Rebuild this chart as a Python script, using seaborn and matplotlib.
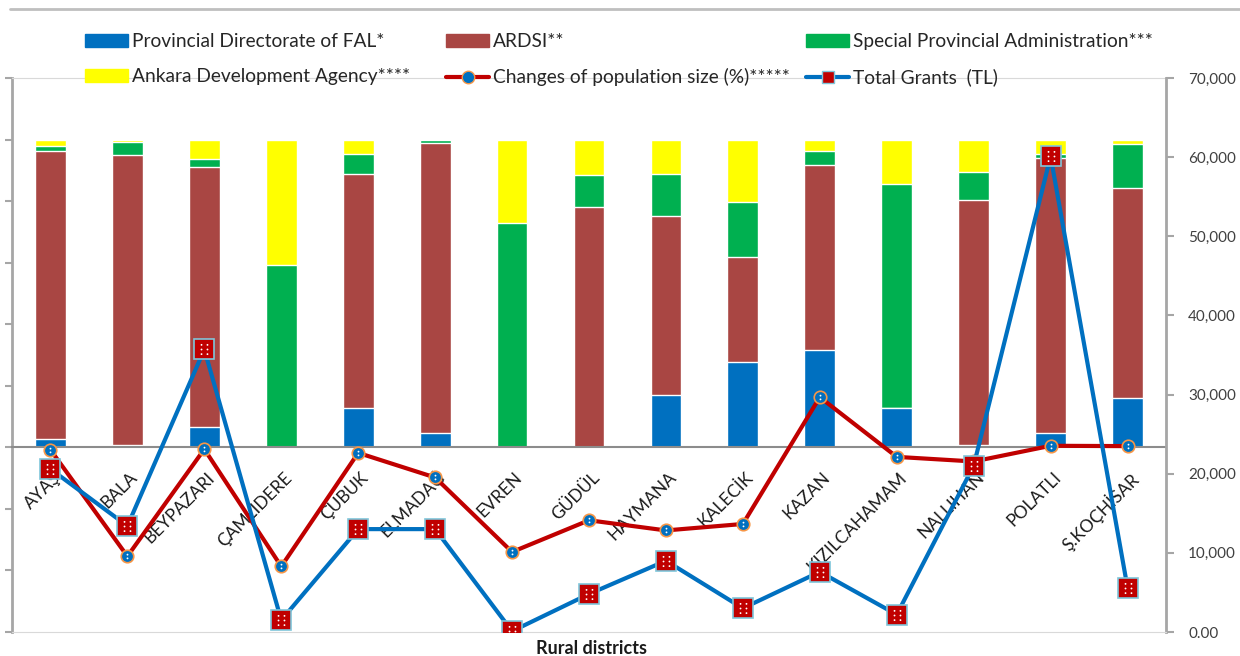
import numpy as np
import seaborn as sns
import matplotlib.pyplot as plt
import matplotlib.transforms as mtransforms
from matplotlib.patches import Patch
from matplotlib.lines import Line2D
from matplotlib.path import Path
from matplotlib.ticker import FuncFormatter, MultipleLocator

# Data (shares in %, grants in TL)
districts = ["AYAŞ", "BALA", "BEYPAZARI", "ÇAMLIDERE", "ÇUBUK", "ELMADAĞ", "EVREN",
             "GÜDÜL", "HAYMANA", "KALECİK", "KAZAN", "KIZILCAHAMAM", "NALLIHAN",
             "POLATLI", "Ş.KOÇHİSAR"]
fal = [2.7, 0.8, 6.7, 0.0, 12.8, 4.7, 0.0, 0.0, 17.1, 27.7, 31.6, 12.8, 0.6, 4.7, 16.0]
ardsi = [93.7, 94.1, 84.5, 0.0, 76.1, 94.1, 0.0, 78.0, 58.2, 34.0, 60.2, 0.0, 79.6, 89.2, 68.3]
spa = [1.4, 4.3, 2.6, 59.4, 6.5, 1.2, 72.9, 10.4, 13.5, 18.0, 4.6, 72.6, 9.2, 1.3, 14.1]
ada = [2.2, 0.8, 6.2, 40.6, 4.6, 0.0, 27.1, 11.6, 11.2, 20.3, 3.6, 14.6, 10.6, 4.8, 1.6]
pop_change = [-0.8, -35.4, -0.6, -38.7, -1.8, -9.8, -34.0, -23.7, -27.0, -24.9,
              16.3, -3.1, -4.6, 0.5, 0.4]
grants = [20600, 13400, 35700, 1500, 13000, 13000, 100, 4800, 9000, 3000,
          7600, 2200, 21000, 60100, 5600]

labels = ["Provincial Directorate of FAL*", "ARDSI**", "Special Provincial Administration***",
          "Ankara Development Agency****", "Changes of population size (%)*****",
          "Total Grants  (TL)"]

c_blue = "#0070C0"
c_brown = "#A94643"
c_green = "#00B050"
c_yellow = "#FFFF00"
c_red = "#C00000"

sns.set_style("white")
plt.rcParams["font.family"] = ["Lato", "DejaVu Sans"]

fig = plt.figure(figsize=(12.4, 6.56), dpi=100)
ax = fig.add_axes([12 / 1240, 1 - 632 / 656, (1166 - 12) / 1240, (632 - 78) / 656])

pos = np.arange(len(districts))
layers = [fal, ardsi, spa, ada]
cols = [c_blue, c_brown, c_green, c_yellow]
cum = np.cumsum(np.array(layers), axis=0)

# stacked bars: draw the cumulative totals from the top layer down
for k in range(3, -1, -1):
    sns.barplot(x=districts, y=cum[k], color=cols[k], width=0.4, saturation=1,
                errorbar=None, ax=ax, zorder=1)

# population change line (left axis)
sns.lineplot(x=pos, y=pop_change, ax=ax, color=c_red, lw=3, marker="o",
             markersize=9, markerfacecolor=c_blue, markeredgecolor="#F79646",
             markeredgewidth=1.2, zorder=3)

ax.set_xlim(-0.5, len(districts) - 0.5)
ax.set_ylim(-60, 120)
ax.yaxis.set_major_locator(MultipleLocator(20))
ax.tick_params(axis="y", left=True, labelleft=False, length=5, width=1.5,
               color="#A6A6A6", direction="out")
ax.set_xticks(pos)
ax.set_xticklabels([])
ax.tick_params(axis="x", length=0)
ax.set_xlabel("")
ax.set_ylabel("")
ax.spines["bottom"].set_position(("data", 0))
ax.spines["bottom"].set_color("#8C8C8C")
ax.spines["bottom"].set_linewidth(1.5)
ax.spines["left"].set_color("#A6A6A6")
ax.spines["left"].set_linewidth(2)
ax.spines["top"].set_color("#D9D9D9")
ax.spines["right"].set_visible(False)

# category labels hanging below the zero line
off = mtransforms.offset_copy(ax.transData, fig=fig, x=2, y=-22, units="dots")
for i, name in enumerate(districts):
    ax.text(i, 0, name, transform=off, rotation=45, rotation_mode="anchor",
            ha="right", va="top", fontsize=12.5, color="#1A1A1A", zorder=2)

# total grants line (right axis)
ax2 = ax.twinx()
sns.lineplot(x=pos, y=grants, ax=ax2, color=c_blue, lw=3, marker="s",
             markersize=14, markerfacecolor=c_red, markeredgecolor="#7FC6DA",
             markeredgewidth=1.2, zorder=3)
ax2.set_ylim(0, 70000)
ax2.yaxis.set_major_locator(MultipleLocator(10000))
ax2.yaxis.set_major_formatter(FuncFormatter(lambda v, p: "0.00" if v == 0 else f"{v:,.0f}"))
ax2.tick_params(axis="y", right=True, length=6, width=1.5, color="#A6A6A6",
                labelsize=11, labelcolor="#404040", pad=10)
ax2.set_ylabel("")
for s in ["left", "top"]:
    ax2.spines[s].set_visible(False)
ax2.spines["right"].set_color("#A6A6A6")
ax2.spines["right"].set_linewidth(2)
ax2.spines["bottom"].set_color("#D9D9D9")

# little white dots in the markers
def dots(pts, r=0.14):
    return Path.make_compound_path(*[Path.circle(p, r) for p in pts])

sq_dots = dots([(-0.45, -0.7), (0.45, -0.7), (-0.45, 0), (0.45, 0), (-0.45, 0.7), (0.45, 0.7)])
ci_dots = dots([(0, 0.5), (0, -0.5)], r=0.25)
ax2.plot(pos, grants, ls="none", marker=sq_dots, markersize=8, color="white",
         markeredgewidth=0, zorder=4)
ax.plot(pos, pop_change, ls="none", marker=ci_dots, markersize=4, color="white",
        markeredgewidth=0, zorder=4)

fig.text(591 / 1240, 1 - 648 / 656, "Rural districts", ha="center", va="center",
         fontsize=13, fontweight="bold", color="#1A1A1A")

# legend in three columns
h_fal = Patch(color=c_blue)
h_ardsi = Patch(color=c_brown)
h_spa = Patch(color=c_green)
h_ada = Patch(color=c_yellow)
h_pop = Line2D([], [], color=c_red, lw=3, marker="o", markersize=9,
               markerfacecolor=c_blue, markeredgecolor="#F79646")
h_gr = Line2D([], [], color=c_blue, lw=3, marker="s", markersize=9,
              markerfacecolor=c_red, markeredgecolor="#7FC6DA")
groups = [([h_fal, h_ada], [labels[0], labels[3]], 85),
          ([h_ardsi, h_pop], [labels[1], labels[4]], 446),
          ([h_spa, h_gr], [labels[2], labels[5]], 806)]
for hs, ls_, x0 in groups:
    fig.legend(hs, ls_, loc="upper left", bbox_to_anchor=(x0 / 1240, 1 - 33 / 656),
               frameon=False, borderpad=0, borderaxespad=0, handlelength=2.25,
               handleheight=0.65, handletextpad=0.22, labelspacing=0.95, fontsize=13.8,
               labelcolor="#262626")

fig.add_artist(Line2D([10 / 1240, 1], [1 - 9 / 656, 1 - 9 / 656], color="#BFBFBF", lw=2))

plt.savefig("out.png", dpi=100)
